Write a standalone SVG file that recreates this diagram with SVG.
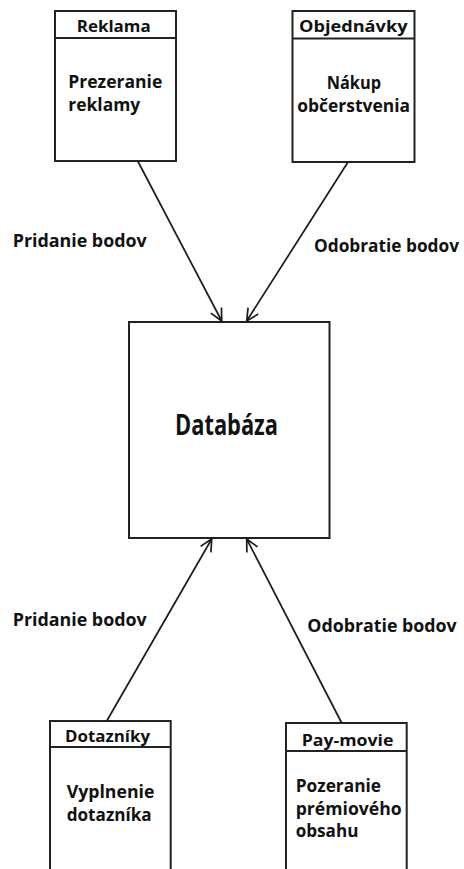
<svg xmlns="http://www.w3.org/2000/svg" width="464" height="869" viewBox="0 0 464 869">
  <style>
    .box { fill: #fff; stroke: #222; stroke-width: 2; }
    .edge { fill: none; stroke: #222; stroke-width: 2; }
    .conn { fill: none; stroke: #1a1a1a; stroke-width: 1.7; marker-end: url(#arrow); }
    text { font-family: "Open Sans", "Noto Sans", "Liberation Sans", sans-serif; font-weight: bold; fill: #111; }
    .title { font-size: 16px; }
    .body { font-size: 17.5px; }
    .label { font-size: 18px; }
    .big { font-size: 29px; }
  </style>
  <defs>
    <marker id="arrow" viewBox="0 0 14 14" refX="13" refY="7" markerWidth="14" markerHeight="14" markerUnits="userSpaceOnUse" orient="auto">
      <path d="M1,1 L13,7 L1,13" fill="none" stroke="#1a1a1a" stroke-width="1.7"/>
    </marker>
  </defs>

  <!-- Top-left: advertising -->
  <g id="reklama">
    <rect class="box" x="55" y="11" width="121" height="150"/>
    <line class="edge" x1="55" y1="38" x2="176" y2="38"/>
    <text class="title" x="76.7" y="31.5" textLength="74" lengthAdjust="spacingAndGlyphs">Reklama</text>
    <text class="body" x="68.3" y="88" textLength="94" lengthAdjust="spacingAndGlyphs">Prezeranie</text>
    <text class="body" x="68.3" y="110.5" textLength="72" lengthAdjust="spacingAndGlyphs">reklamy</text>
  </g>

  <!-- Top-right: orders -->
  <g id="objednavky">
    <rect class="box" x="292.5" y="11" width="122" height="151"/>
    <line class="edge" x1="292.5" y1="38.5" x2="414.5" y2="38.5"/>
    <text class="title" x="299" y="31.5" textLength="108.5" lengthAdjust="spacingAndGlyphs">Objednávky</text>
    <text class="body" x="326.7" y="89" textLength="54.3" lengthAdjust="spacingAndGlyphs">Nákup</text>
    <text class="body" x="297.3" y="112" textLength="112.7" lengthAdjust="spacingAndGlyphs">občerstvenia</text>
  </g>

  <!-- Central database -->
  <g id="databaza">
    <rect class="box" x="129" y="322" width="200.5" height="216"/>
    <text class="big" x="175" y="435" textLength="103" lengthAdjust="spacingAndGlyphs">Databáza</text>
  </g>

  <!-- Bottom-left: questionnaires -->
  <g id="dotazniky">
    <path class="box" d="M50,875 L50,721 L170.7,721 L170.7,875"/>
    <line class="edge" x1="50" y1="747" x2="170.7" y2="747"/>
    <text class="title" x="65" y="742.3" textLength="85" lengthAdjust="spacingAndGlyphs">Dotazníky</text>
    <text class="body" x="66.7" y="798" textLength="87.7" lengthAdjust="spacingAndGlyphs">Vyplnenie</text>
    <text class="body" x="66.7" y="821" textLength="85" lengthAdjust="spacingAndGlyphs">dotazníka</text>
  </g>

  <!-- Bottom-right: pay-per-view -->
  <g id="pay-movie">
    <path class="box" d="M286,875 L286,723 L406.7,723 L406.7,875"/>
    <line class="edge" x1="286" y1="751" x2="406.7" y2="751"/>
    <text class="title" x="301.7" y="745.7" textLength="91.7" lengthAdjust="spacingAndGlyphs">Pay-movie</text>
    <text class="body" x="295.7" y="791.7" textLength="85.3" lengthAdjust="spacingAndGlyphs">Pozeranie</text>
    <text class="body" x="295.7" y="815" textLength="106" lengthAdjust="spacingAndGlyphs">prémiového</text>
    <text class="body" x="295.7" y="837.3" textLength="62.7" lengthAdjust="spacingAndGlyphs">obsahu</text>
  </g>

  <!-- Connectors -->
  <g id="connectors">
    <line class="conn" x1="137.7" y1="161" x2="221.7" y2="321"/>
    <line class="conn" x1="348" y1="162" x2="246.7" y2="321"/>
    <line class="conn" x1="106.7" y1="721" x2="211.7" y2="539"/>
    <line class="conn" x1="341.7" y1="723" x2="246.7" y2="539"/>
  </g>

  <!-- Connector labels -->
  <g id="labels">
    <text class="label" x="12.7" y="246.7" textLength="134" lengthAdjust="spacingAndGlyphs">Pridanie bodov</text>
    <text class="label" x="314" y="251.7" textLength="145" lengthAdjust="spacingAndGlyphs">Odobratie bodov</text>
    <text class="label" x="12.7" y="625.7" textLength="134" lengthAdjust="spacingAndGlyphs">Pridanie bodov</text>
    <text class="label" x="307.3" y="631.7" textLength="149.4" lengthAdjust="spacingAndGlyphs">Odobratie bodov</text>
  </g>
</svg>
